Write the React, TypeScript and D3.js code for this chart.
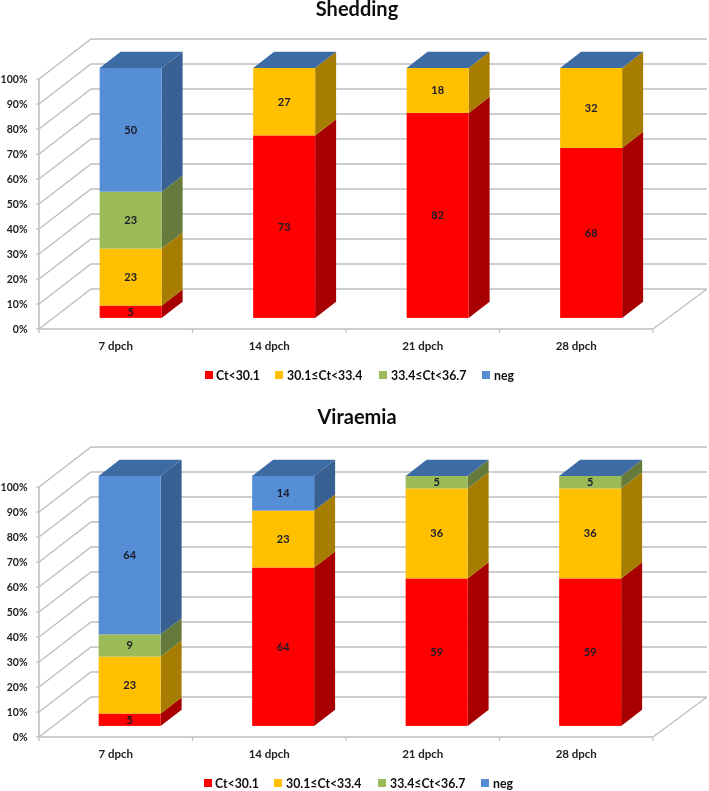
import React from "react";
import * as d3 from "d3";

const categories = ["7 dpch", "14 dpch", "21 dpch", "28 dpch"];
const seriesNames = ["Ct<30.1", "30.1≤Ct<33.4", "33.4≤Ct<36.7", "neg"];
const sheddingRed = [5, 73, 82, 68];
const sheddingYellow = [23, 27, 18, 32];
const sheddingGreen = [23, 0, 0, 0];
const sheddingBlue = [50, 0, 0, 0];
const viraemiaRed = [5, 64, 59, 59];
const viraemiaYellow = [23, 23, 36, 36];
const viraemiaGreen = [9, 0, 5, 5];
const viraemiaBlue = [64, 14, 0, 0];
const yTicks = [0, 10, 20, 30, 40, 50, 60, 70, 80, 90, 100];
const frontColors = ["#FF0000", "#FFC000", "#9BBB59", "#558ED5"];
const sideColors = ["#A80000", "#A67D00", "#657A3A", "#376092"];
const topBlue = "#3E6CA5";
const legendSwatchX = [205, 275, 379, 482];
const legendTextX = [216, 287, 391, 494];

const FONT = "Lato, 'Open Sans', sans-serif";
const GRID = "#BFBFBF";

function Chart({ title, titleY, top, values, barShift, legendShift }: { title: string; titleY: number; top: number; values: number[][]; barShift: number; legendShift: number }) {
  const rows = categories.map((c, i) => {
    const o: Record<string, number> = {};
    seriesNames.forEach((s, k) => (o[s] = values[k][i]));
    return o;
  });
  const stacked = d3.stack<Record<string, number>>().keys(seriesNames).offset(d3.stackOffsetExpand)(rows);
  const y = d3.scaleLinear().domain([0, 100]).range([top + 250, top]);
  const yFrac = d3.scaleLinear().domain([0, 1]).range([top + 250, top]);
  const x = d3.scaleBand().domain(categories).range([39, 653]);
  const depthX = 52, depthY = -40;
  const barW = 62;
  const barStart = 0.277, barEnd = 0.68; // fraction of floor depth that the bar occupies
  const back = (px: number) => px + depthX;
  const edges = d3.range(categories.length + 1).map((i) => 39 + i * x.bandwidth());

  return (
    <g>
      <text x={357} y={titleY} textAnchor="middle" fontFamily={FONT} fontWeight={700} fontSize={20} fill="#111">{title}</text>
      {yTicks.map((t) => (
        <g key={t}>
          <polyline points={`39,${y(t)} ${back(39)},${y(t) + depthY} 707,${y(t) + depthY}`} fill="none" stroke={GRID} strokeWidth={1.4} />
          <line x1={36} x2={39} y1={y(t)} y2={y(t)} stroke={GRID} strokeWidth={1.2} />
          <text x={27.5} y={y(t) + 4} textAnchor="end" fontFamily={FONT} fontWeight={700} fontSize={10.5} fill="#222">{t}%</text>
        </g>
      ))}
      <line x1={39} x2={39} y1={y(100)} y2={y(0)} stroke={GRID} strokeWidth={1.6} />
      <line x1={39} x2={653} y1={y(0)} y2={y(0)} stroke={GRID} strokeWidth={1.6} />
      <line x1={653} x2={707} y1={y(0)} y2={y(0) + depthY} stroke={GRID} strokeWidth={1.4} />
      {edges.map((e) => (
        <line key={e} x1={e} x2={e} y1={y(0)} y2={y(0) + 4} stroke={GRID} strokeWidth={1.2} />
      ))}
      {categories.map((c) => (
        <text key={c} x={x(c)! + x.bandwidth() / 2} y={y(0) + 21} textAnchor="middle" fontFamily={FONT} fontWeight={700} fontSize={11.5} fill="#222">{c}</text>
      ))}
      {categories.map((c, i) => {
        const x0 = x(c)! + x.bandwidth() / 2 - barW / 2 + depthX * barStart + barShift;
        const x1 = x0 + barW;
        const dx = depthX * (barEnd - barStart), dy = depthY * (barEnd - barStart);
        const off = depthY * barStart;
        const live = stacked.map((s, k) => ({ k, a: s[i][0], b: s[i][1] })).filter((d) => d.b > d.a);
        return (
          <g key={c}>
            {live.map((d) => {
              const yb = yFrac(d.a) + off, yt = yFrac(d.b) + off;
              const raw = values[d.k][i];
              return (
                <g key={d.k}>
                  <polygon points={`${x1},${yb} ${x1 + dx},${yb + dy} ${x1 + dx},${yt + dy} ${x1},${yt}`} fill={sideColors[d.k]} />
                  <rect x={x0} y={yt} width={barW} height={yb - yt} fill={frontColors[d.k]} />
                  <text x={(x0 + x1) / 2} y={(yb + yt) / 2 + 4} textAnchor="middle" fontFamily={FONT} fontWeight={700} fontSize={11} fill="#1a1a2a">{raw}</text>
                </g>
              );
            })}
            <polygon
              points={`${x0},${yFrac(1) + off} ${x1},${yFrac(1) + off} ${x1 + dx},${yFrac(1) + off + dy} ${x0 + dx},${yFrac(1) + off + dy}`}
              fill={topBlue}
            />
          </g>
        );
      })}
      {seriesNames.map((s, k) => (
        <g key={s}>
          <rect x={legendSwatchX[k] + legendShift} y={top + 292} width={8} height={8} fill={frontColors[k]} />
          <text x={legendTextX[k] + legendShift} y={top + 300.5} fontFamily={FONT} fontWeight={700} fontSize={12.3} fill="#111">{s}</text>
        </g>
      ))}
    </g>
  );
}

export default function App() {
  return (
    <svg width={709} height={791} style={{ position: "absolute", left: 0, top: 0, background: "#fff" }}>
      <defs>
        <filter id="soft" x="0" y="0" width="100%" height="100%">
          <feGaussianBlur stdDeviation="0.35" />
        </filter>
      </defs>
      <g filter="url(#soft)">
        <Chart title="Shedding" titleY={16} top={79} barShift={0.5} legendShift={0} values={[sheddingRed, sheddingYellow, sheddingGreen, sheddingBlue]} />
        <Chart title="Viraemia" titleY={424} top={487} barShift={-0.5} legendShift={-1} values={[viraemiaRed, viraemiaYellow, viraemiaGreen, viraemiaBlue]} />
      </g>
    </svg>
  );
}
